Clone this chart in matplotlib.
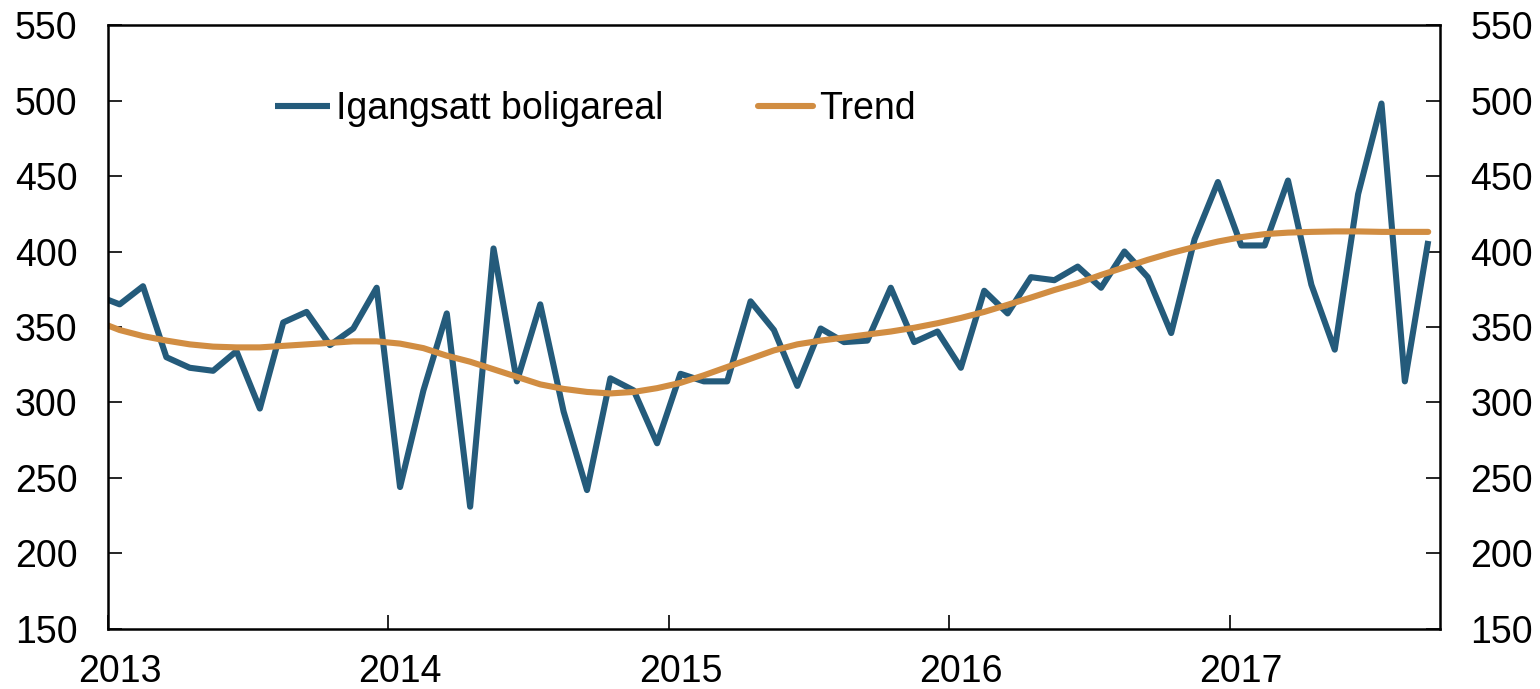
"""
Igangsatt boligareal med trend, månedlig 2013-2017
"""

import numpy as np
import pandas as pd
import matplotlib
matplotlib.use('Agg')
import matplotlib.pyplot as plt
from matplotlib.ticker import FixedLocator, NullFormatter

plt.rcParams['font.family'] = ['Liberation Sans', 'DejaVu Sans']

# ── Data ──────────────────────────────────────────────
months = pd.period_range('2012-12', '2017-09', freq='M')

boligareal = [
    371,                                                      # des 2012
    365, 377, 330, 323, 321, 334, 296, 353, 360, 338, 349, 376,  # 2013
    244, 308, 359, 231, 402, 314, 365, 294, 242, 316, 308, 273,  # 2014
    319, 314, 314, 367, 348, 311, 349, 340, 341, 376, 340, 347,  # 2015
    323, 374, 359, 383, 381, 390, 376, 400, 383, 346, 408, 446,  # 2016
    404, 404, 447, 378, 335, 438, 498, 314, 407,                 # 2017
]

trend = [
    354,
    348, 344, 341, 338.5, 337, 336.5, 336.5, 337.5, 338.5, 339.5, 340.5, 340.5,
    339, 336, 331, 327, 322, 317, 312, 309, 307, 306, 307, 309.5,
    313, 318, 323.5, 329, 334.5, 338.5, 341, 343, 345, 347, 349.5, 352.5,
    356, 360, 364.7, 369.5, 374.5, 379, 384.5, 389.5, 394.5, 399, 403, 406.6,
    409.5, 411.5, 412.5, 413, 413.3, 413.3, 413, 413, 413,
]

years = [2013, 2014, 2015, 2016, 2017]

BLUE   = '#245B7B'
ORANGE = '#D18D42'
FS     = 27

# month index with Jan 2013 = 0, points plotted mid-month
start = pd.Period('2013-01', freq='M')
x = np.array([(m - start).n for m in months]) + 0.5
year_x = [(pd.Period(f'{y}-01', freq='M') - start).n for y in years]

# ── Plot ──────────────────────────────────────────────
fig = plt.figure(figsize=(15.4, 6.89), dpi=100)
ax = fig.add_axes([0.0701, 0.0871, 0.8649, 0.8766])

ax.plot(x, boligareal, color=BLUE, lw=4.4, label='Igangsatt boligareal',
        solid_joinstyle='round', solid_capstyle='butt')
ax.plot(x, trend, color=ORANGE, lw=4.4, label='Trend', solid_capstyle='round')

ax.set_xlim(0, x[-1] + 0.5)
ax.set_ylim(150, 550)
ax.set_yticks(np.arange(150, 551, 50))

# year ticks at boundaries, labels centred on the January point
ax.xaxis.set_major_locator(FixedLocator(year_x))
ax.xaxis.set_major_formatter(NullFormatter())
ax.xaxis.set_minor_locator(FixedLocator([v + 0.5 for v in year_x]))
ax.set_xticklabels([str(y) for y in years], minor=True)
ax.tick_params(axis='x', which='major', direction='in', length=10, width=1.2)
ax.tick_params(axis='x', which='minor', length=0, pad=18, labelsize=FS)

ax.tick_params(axis='y', direction='in', length=10, width=1.2, pad=22,
               labelsize=FS, left=True, right=True, labelleft=True, labelright=True)

for s in ax.spines.values():
    s.set_linewidth(1.8)

ax.legend(loc='upper left', bbox_to_anchor=(0.1254, 0.89), ncol=2, frameon=False,
          fontsize=FS, handlelength=1.47, handletextpad=0.16, columnspacing=2.53,
          borderaxespad=0, borderpad=0)

plt.savefig('out.png', dpi=100)
plt.close()
